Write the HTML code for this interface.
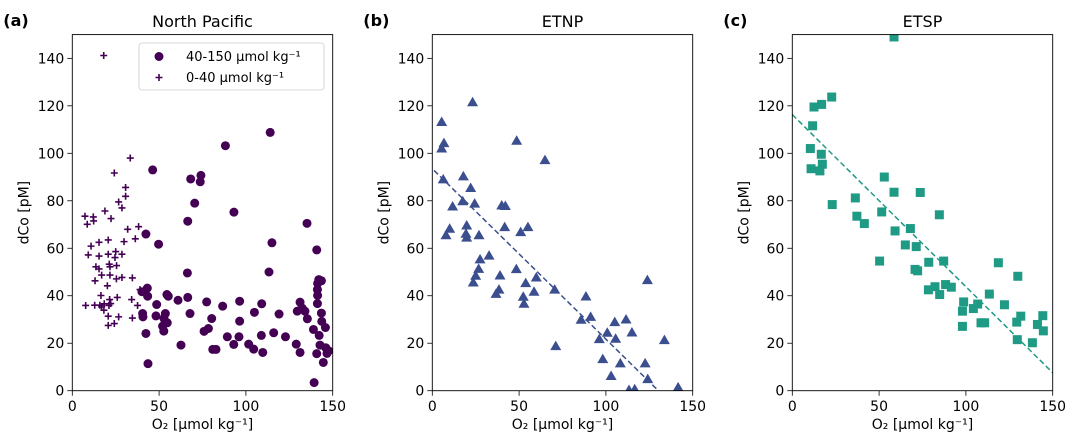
<!DOCTYPE html>
<html><head><meta charset="utf-8"><style>
html,body{margin:0;padding:0;background:#fff;}
svg{display:block;font-family:"DejaVu Sans","Liberation Sans",sans-serif;}
</style></head><body>
<svg id="chart" width="1080" height="435" viewBox="0 0 1080 435" xmlns="http://www.w3.org/2000/svg"></svg>
<script>
// Panel (a) North Pacific, 40-150 circles
const aCircX=[46.3,68.2,74.1,73.7,70.5,88.2,114,93.1,66.5,135.2,42.4,49.7,115,140.8,66.3,113.3,142,141.3,141.2,141.3,141.2,143.5,40.1,43.2,43.4,48.6,54.5,55.3,60.9,66.5,77.4,86.6,96.4,109.1,131.2,132.4,134,129.6,135.4,143.5,143.7,145.8,40.5,40.7,48.2,53.6,52.8,54.7,52,52.7,67.8,80.3,104.9,119.1,96.4,78.4,75.9,42.4,89.3,96,108.9,116,122.8,138.9,142.2,62.6,93,101.6,104.5,129,131.2,109.7,80.9,82.8,142.7,146,147.7,146.7,140.8,144.6,43.6,139.3];
const aCircY=[93,89.2,90.7,88,79,103.2,108.8,75.2,71.4,70.5,66,61.7,62.3,59.3,49.6,50,46.8,45.2,42.6,40.1,36.7,46.3,41.7,43.2,39.8,36.3,40.5,39.8,38.1,39.3,37.4,35.6,37.7,36.6,37.3,34.8,33.5,33.5,30.3,32.7,29.2,26.6,32.5,31.1,31.5,32.5,30.4,28.6,27.2,25.1,32.5,30.4,33,32.3,29.3,26.2,25,24.1,22.7,22.7,23.3,24.4,22.7,25.8,23.3,19.2,19.5,19.6,17.5,19.6,16.1,16.1,17.4,17.4,19.2,18.1,16.8,15.7,15.6,11.9,11.4,3.4];
// 0-40 plus markers
const aPlusX=[18.1,33.4,24.2,30.7,30.7,26.7,28.6,18.8,22.3,7.3,8.6,12.1,12.3,38.2,31.9,36.3,29.8,20.7,15.4,10.8,9.2,15.4,20.7,25,28.6,13.6,15.4,16.9,21.7,24.6,25.5,21.3,13.1,21.7,25.4,28.6,34.6,39,16.5,20.2,21.5,25.9,34.2,37.6,7.7,12.9,16.9,21.1,22.1,18.2,20.7,26.7,24.2,34.6,20.7,18.4,15.9];
const aPlusY=[141.2,98,91.7,85.6,81.9,79.5,77,75.7,72.5,73.5,70.1,73.2,71.5,69.1,68,64,62.8,63.5,62.5,60.9,57.2,56.7,57.5,58.6,57.5,52.2,51.3,48.7,52.2,56.1,52.7,53.3,46.3,48.7,47.1,47.7,47.5,42.6,40.1,44.2,38.4,39.3,38.4,35.9,35.9,36,35.3,35.9,36.7,33.9,31.4,31.1,28.3,30.6,27.5,36.6,36];
// Panel (b) ETNP
const bX=[23.2,5.4,6.7,5.4,48.6,64.9,6.3,17.9,22.1,17.5,24.4,11.7,40,42.1,19.8,10,7.9,19.4,19.8,26.9,41.7,50.9,55.1,32.7,27.5,26.7,25,23.6,48.4,59.9,53.8,39,38.4,36.7,52.4,52.8,58.6,70.5,88.5,123.9,85.7,91.2,105.1,111.6,100.8,115,96.2,105.6,133.7,71.1,98.2,108.3,122.6,103,124.1,113.3,116.6,141.6];
const bY=[121.5,113.2,104.3,102,105.3,97.1,89,90.3,85.4,79.8,78.8,77.6,78,77.8,69.6,68.2,65.5,66.1,64.5,65.5,68.9,66.8,68.9,56.9,55.3,51.3,48.4,45.6,51.2,47.7,45.3,48.5,42.6,40.8,39.6,36.6,41.7,42.6,39.7,46.6,29.9,31.1,28.9,30,24.4,24.5,21.7,21.9,21.3,18.8,13.3,11.5,11.5,6.2,4.9,0.3,0.6,1.4];
const bFit=[93.5,-0.718];
// Panel (c) ETSP
const cX=[58.6,22.7,12.5,16.9,11.7,10.4,10.8,16.7,17.3,15.9,23,53,58.6,73.7,36.3,37.2,41.5,51.5,59.2,68,84.7,65.1,71.4,50.3,70.7,72.2,78.6,87.2,118.7,129.9,78.4,82.2,84.9,88.3,91.6,98.7,98,104.3,106.8,113.5,122.2,98,108.7,110.8,129.3,131.6,144.3,141.2,144.6,129.6,138.3];
const cY=[149,123.7,119.5,120.6,111.6,102,93.5,99.6,95.4,92.6,78.4,90,83.6,83.5,81.2,73.5,70.4,75.3,67.3,68.3,74.1,61.4,60.7,54.6,51.1,50.5,54.1,54.6,53.9,48.2,42.5,43.8,40.5,44.7,43.6,37.4,33.5,34.6,36.5,40.7,36.2,27.1,28.6,28.6,28.9,31.4,31.6,27.9,25.2,21.5,20.2];
const cFit=[116.3,-0.725];
const xTicks=[0,50,100,150];
const yTicks=[0,20,40,60,80,100,120,140];

const NS="http://www.w3.org/2000/svg";
const svg=document.getElementById('chart');
function mk(tag,attrs,parent){const e=document.createElementNS(NS,tag);for(const k in attrs)e.setAttribute(k,attrs[k]);(parent||svg).appendChild(e);return e;}
const Y0=390.7,Y1=34.6;
function yS(v){return Y0-(v/150)*(Y0-Y1);}
function panel(left,title,letter,name){
  const right=left+260.4;
  const xS=v=>left+(v/150)*(right-left);
  const g=mk('g',{});
  
  
  xTicks.forEach(t=>{
    const l=mk('line',{x1:xS(t),x2:xS(t),y1:Y0,y2:Y0+5,stroke:'#000','stroke-width':0.8},g);
    
    
    const tx=mk('text',{x:xS(t),y:Y0+20.5,'text-anchor':'middle','font-size':14},g);tx.textContent=t;
    
    
  });
  yTicks.forEach(t=>{
    mk('line',{x1:left-5,x2:left,y1:yS(t),y2:yS(t),stroke:'#000','stroke-width':0.8},g);
    const tx=mk('text',{x:left-8,y:yS(t)+5,'text-anchor':'end','font-size':14},g);tx.textContent=t;
    
    
  });
  const xl=mk('text',{x:(left+right)/2,y:429,'text-anchor':'middle','font-size':14},g);
  xl.textContent='O₂ [µmol kg⁻¹]';
  
  
  const yl=mk('text',{x:0,y:0,'text-anchor':'middle','font-size':14,transform:`translate(${left-44},${(Y0+Y1)/2}) rotate(-90)`},g);
  yl.textContent='dCo [pM]';
  
  
  const tt=mk('text',{x:(left+right)/2,y:27,'text-anchor':'middle','font-size':16},g);
  tt.textContent=title;
  
  
  const lt=mk('text',{x:left-69,y:26,'font-size':16,'font-weight':'bold'},g);
  lt.textContent=letter;
  
  
  const clip=mk('clipPath',{id:'clip'+name},g);
  mk('rect',{x:left,y:Y1,width:right-left,height:Y0-Y1},clip);
  const pg=mk('g',{'clip-path':`url(#clip${name})`},g);
  return {g,pg,xS,left,right};
}
function frame(p){
  const r=mk('rect',{x:p.left,y:Y1,width:p.right-p.left,height:Y0-Y1,fill:'none',stroke:'#000','stroke-width':0.9},p.g);
  
  
}
// Panel a
const pa=panel(72.3,'North Pacific','(a)','panel-north-pacific');
aCircX.forEach((x,i)=>{
  const c=mk('circle',{cx:pa.xS(x),cy:yS(aCircY[i]),r:4.5,fill:'#440154'},pa.pg);
  
  
});
aPlusX.forEach((x,i)=>{
  const cx=pa.xS(x),cy=yS(aPlusY[i]);
  const p=mk('path',{d:`M${cx-3.5},${cy}H${cx+3.5}M${cx},${cy-3.5}V${cy+3.5}`,stroke:'#440154','stroke-width':1.6},pa.pg);
  
  
});
const lg=mk('g',{},pa.g);


mk('rect',{x:139,y:43,width:185,height:47,rx:3,fill:'#fff','fill-opacity':0.85,stroke:'#ccc','stroke-width':0.8},lg);
mk('circle',{cx:159,cy:56.5,r:4.5,fill:'#440154'},lg);
mk('path',{d:'M155.5,77.5H162.5M159,74V81',stroke:'#440154','stroke-width':1.6},lg);
const l1=mk('text',{x:186,y:61,'font-size':13},lg);l1.textContent='40-150 µmol kg⁻¹';


const l2=mk('text',{x:186,y:82,'font-size':13},lg);l2.textContent='0-40 µmol kg⁻¹';


frame(pa);
// Panel b
const pb=panel(432.3,'ETNP','(b)','panel-etnp');
bX.forEach((x,i)=>{
  const cx=pb.xS(x),cy=yS(bY[i]);
  const t=mk('path',{d:`M${cx},${cy-5.5}L${cx+5.5},${cy+4}L${cx-5.5},${cy+4}Z`,fill:'#3b4f8f'},pb.pg);
  
  
});
const fb=mk('line',{x1:pb.xS(1),y1:yS(bFit[0]+bFit[1]*1),x2:pb.xS(-bFit[0]/bFit[1]),y2:yS(0),stroke:'#3b4f8f','stroke-width':1.5,'stroke-dasharray':'5.5,3'},pb.pg);


frame(pb);
// Panel c
const pc=panel(792.3,'ETSP','(c)','panel-etsp');
cX.forEach((x,i)=>{
  const cx=pc.xS(x),cy=yS(cY[i]);
  const s=mk('rect',{x:cx-4.5,y:cy-4.5,width:9,height:9,fill:'#1f9a84'},pc.pg);
  
  
});
const fc=mk('line',{x1:pc.xS(0),y1:yS(cFit[0]),x2:pc.xS(150),y2:yS(cFit[0]+cFit[1]*150),stroke:'#1f9a84','stroke-width':1.5,'stroke-dasharray':'5.5,3'},pc.pg);


frame(pc);
</script>
</body></html>
